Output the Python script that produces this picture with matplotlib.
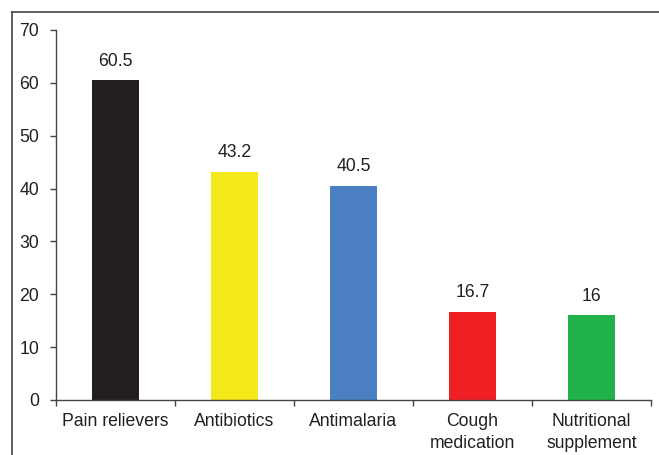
import matplotlib
matplotlib.use("Agg")
import matplotlib.pyplot as plt
from matplotlib.lines import Line2D
import numpy as np

categories = ["Pain relievers", "Antibiotics", "Antimalaria", "Cough\nmedication", "Nutritional\nsupplement"]
values = [60.5, 43.2, 40.5, 16.7, 16]
labels = ["60.5", "43.2", "40.5", "16.7", "16"]
colors = ["#231f20", "#f2e81a", "#4a7fc1", "#ee2024", "#21b14b"]

plt.rcParams['font.family'] = ['Liberation Sans', 'DejaVu Sans']
FS = 12.7

fig = plt.figure(figsize=(6.59, 4.55), dpi=100)
ax = fig.add_axes([56/659, 55/455, 595/659, 370/455])

x = np.arange(len(categories))
ax.bar(x, values, width=0.4, color=colors)
for xi, v, lab in zip(x, values, labels):
    ax.text(xi, v + 2.0, lab, ha='center', va='bottom', fontsize=FS, color='#231f20')

ax.set_xlim(-0.5, len(categories) - 0.5)
ax.set_ylim(0, 70)
ax.set_yticks(range(0, 71, 10))
ax.set_xticks(x)
ax.set_xticklabels(categories, fontsize=FS, color='#231f20', linespacing=1.4)
ax.set_xticks(np.arange(-0.5, len(categories)), minor=True)
ax.tick_params(axis='x', which='major', length=0, pad=9)
ax.tick_params(axis='x', which='minor', length=4, width=1, color='#444444', direction='out')
ax.tick_params(axis='y', length=4, width=1, color='#444444', labelsize=FS, labelcolor='#231f20', pad=8)
for s in ['top', 'right']:
    ax.spines[s].set_visible(False)
for s in ['left', 'bottom']:
    ax.spines[s].set_color('#444444')
    ax.spines[s].set_linewidth(1)

# outer frame (top and left edges)
fig.add_artist(Line2D([12/659, 1.0], [1 - 12/455, 1 - 12/455], transform=fig.transFigure, color='#444444', lw=1.2))
fig.add_artist(Line2D([12/659, 12/659], [0, 1 - 12/455], transform=fig.transFigure, color='#444444', lw=1.2))

fig.savefig("out.png", dpi=100)
